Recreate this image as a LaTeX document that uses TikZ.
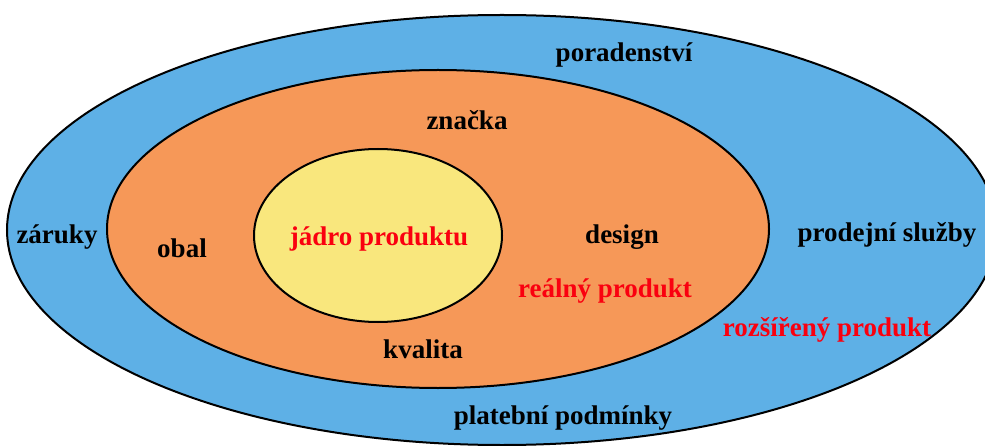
\documentclass[tikz,border=0pt]{standalone}
\usepackage{fontspec}
\setmainfont{Liberation Serif}
\usetikzlibrary{shapes.geometric}

\definecolor{extblue}{RGB}{94,176,230}
\definecolor{realorange}{RGB}{246,152,88}
\definecolor{coreyellow}{RGB}{249,231,125}
\definecolor{labelred}{RGB}{250,0,15}

\begin{document}
\begin{tikzpicture}[
    x=1pt, y=1pt,
    layer/.style={
        draw, ellipse, line width=2pt, inner sep=0pt
    },
    item/.style={
        font=\fontsize{27}{32}\selectfont\bfseries, text=black, inner sep=1pt
    },
    level/.style={
        item, text=labelred
    }
]

\useasboundingbox (0,0) rectangle (985,445);
\clip (0,0) rectangle (985,445);

% -------------------------
% Layers of the product
% -------------------------

% 1. Extended product (outer)
\node[layer, fill=extblue, minimum width=990, minimum height=430] (extended) at (502,215) {};

% 2. Real product (middle)
\node[layer, fill=realorange, minimum width=662, minimum height=318] (real) at (438,216) {};

% 3. Core product (inner)
\node[layer, fill=coreyellow, minimum width=248, minimum height=173] (core) at (378,209.5) {};

% -------------------------
% Labels
% -------------------------

% outer ring
\node[item] (advice) at (624,390) {poradenství};
\node[item] (warranty) at (57,208) {záruky};
\node[item] (services) at (887,210) {prodejní služby};
\node[item] (payment) at (563,27) {platební podmínky};
\node[level] (extlabel) at (827,115) {rozšířený produkt};

% middle ring
\node[item] (brand) at (467,325) {značka};
\node[item] (package) at (182,197) {obal};
\node[item] (design) at (622,208) {design};
\node[item] (quality) at (423,96) {kvalita};
\node[level] (reallabel) at (605,154) {reálný produkt};

% inner core
\node[level] (corelabel) at (379,206) {jádro produktu};

\end{tikzpicture}
\end{document}
